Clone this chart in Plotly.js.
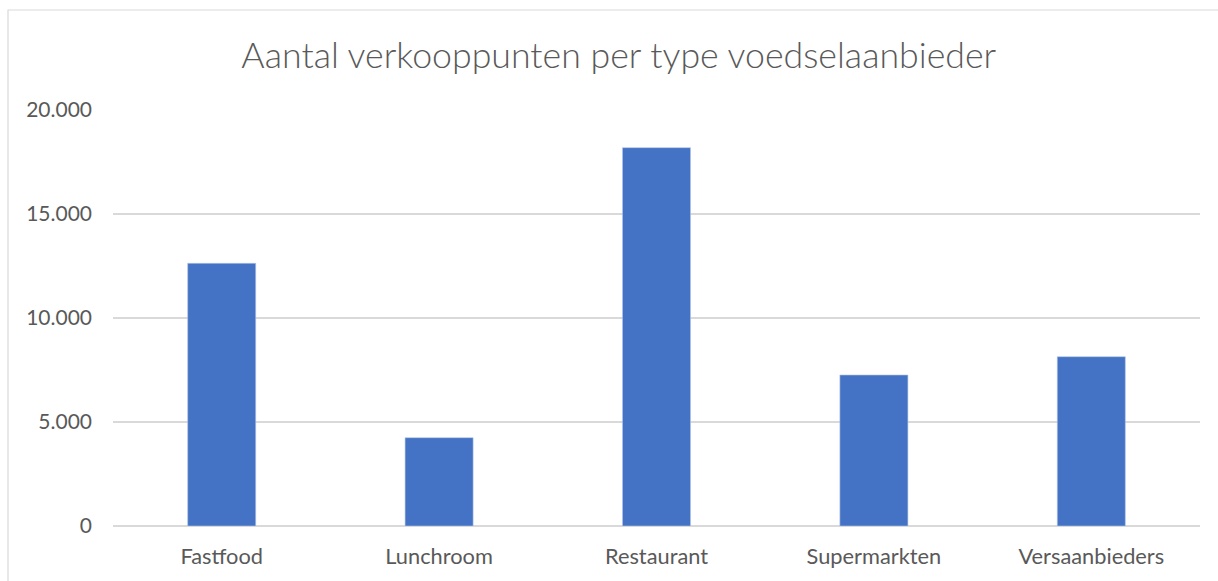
<!DOCTYPE html>
<html>
<head>
<meta charset="utf-8">
<script src="https://cdn.plot.ly/plotly-3.0.1.min.js"></script>
<style>html,body{margin:0;padding:0;background:#fff;}#chart{width:1218px;height:581px;}</style>
</head>
<body>
<div id="chart"></div>
<script>
const categories = ["Fastfood", "Lunchroom", "Restaurant", "Supermarkten", "Versaanbieders"];
const values = [12630, 4245, 18190, 7260, 8140];
const yTicks = [0, 5000, 10000, 15000, 20000];

const trace = {
  type: 'bar',
  x: categories,
  y: values,
  marker: {color: '#4472C4', line: {color: '#B4C7E7', width: 0.6}},
  width: 0.313,
  hoverinfo: 'x+y'
};

const layout = {
  width: 1218,
  height: 581,
  margin: {l: 113, r: 18, t: 110, b: 55},
  paper_bgcolor: '#fff',
  plot_bgcolor: '#fff',
  separators: ',.',
  showlegend: false,
  title: {
    text: 'Aantal verkooppunten per type voedselaanbieder',
    font: {family: 'Lato, sans-serif', size: 35.7, color: '#595959', weight: 300},
    x: 0.508, xanchor: 'center',
    y: 0.905, yanchor: 'middle'
  },
  xaxis: {
    type: 'category',
    tickfont: {family: 'Lato, sans-serif', size: 21.8, color: '#595959'},
    showgrid: false,
    showline: false,
    zeroline: false,
    ticks: '',
    ticklabelstandoff: 15
  },
  yaxis: {
    range: [0, 20000],
    tickvals: yTicks,
    tickformat: ',d',
    tickfont: {family: 'Lato, sans-serif', size: 21, color: '#595959'},
    showgrid: true,
    gridcolor: '#D9D9D9',
    gridwidth: 1.5,
    zeroline: true,
    zerolinecolor: '#D9D9D9',
    zerolinewidth: 1.5,
    showline: false,
    ticks: '',
    ticklabelstandoff: 20,
    fixedrange: true
  },
  shapes: [{
    type: 'rect', xref: 'paper', yref: 'paper',
    x0: (8 - 113) / 1087, x1: 1.2,
    y0: -0.3, y1: (526 - 10) / 416,
    line: {color: '#D9D9D9', width: 1.2},
    fillcolor: 'rgba(0,0,0,0)',
    layer: 'below'
  }]
};

Plotly.newPlot('chart', [trace], layout, {displayModeBar: false, staticPlot: true});
</script>
</body>
</html>
